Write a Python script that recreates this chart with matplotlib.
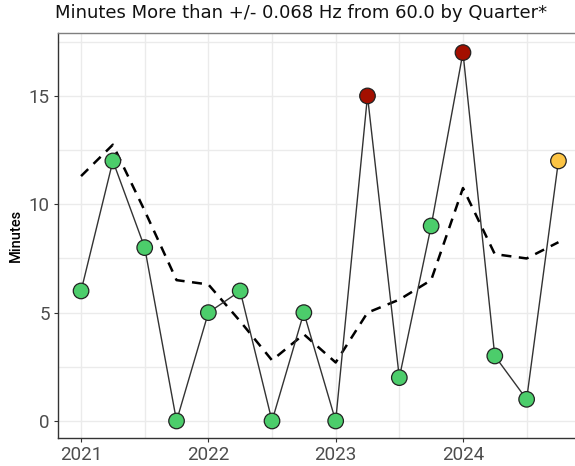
import numpy as np
import matplotlib.pyplot as plt
from matplotlib.ticker import MultipleLocator

# Dados trimestrais 2021 Q1 - 2024 Q4
quarters = [2021.0, 2021.25, 2021.5, 2021.75,
            2022.0, 2022.25, 2022.5, 2022.75,
            2023.0, 2023.25, 2023.5, 2023.75,
            2024.0, 2024.25, 2024.5, 2024.75]
minutes = [6, 12, 8, 0, 5, 6, 0, 5, 0, 15, 2, 9, 17, 3, 1, 12]
trend = [11.3, 12.75, 9.7, 6.5, 6.3, 4.6, 2.8, 4.0,
         2.7, 5.0, 5.6, 6.5, 10.75, 7.7, 7.5, 8.25]
status = ["ok", "ok", "ok", "ok", "ok", "ok", "ok", "ok",
          "ok", "high", "ok", "ok", "high", "ok", "ok", "partial"]
year_ticks = [2021, 2022, 2023, 2024]
y_ticks = [0, 5, 10, 15]

status_colors = {"ok": "#4ccd6b", "high": "#a30f00", "partial": "#fcc444"}

fig = plt.figure(figsize=(5.75, 4.66), dpi=100)
ax = fig.add_axes([0.1009, 0.0601, 0.8991, 0.8689])

# Grid (major + minor)
ax.xaxis.set_minor_locator(MultipleLocator(0.5))
ax.yaxis.set_minor_locator(MultipleLocator(2.5))
ax.grid(which="both", color="#ebebeb", linewidth=1.0)
ax.set_axisbelow(True)

ax.plot(quarters, trend, color="black", linestyle=(0, (4, 3)), linewidth=1.8, zorder=2)
ax.plot(quarters, minutes, color="#333333", linewidth=1.0, zorder=3)
cols = [status_colors[s] for s in status]
ax.scatter(quarters, minutes, s=125, c=cols, edgecolors="#222222", linewidths=0.9, zorder=4)

ax.set_xlim(2020.819, 2024.88)
ax.set_ylim(-0.785, 17.9)
ax.set_xticks(year_ticks)
ax.set_yticks(y_ticks)
ax.set_xticklabels([str(y) for y in year_ticks])
ax.tick_params(which="major", colors="#333333", labelcolor="#4d4d4d", labelsize=13.5,
               length=3, width=0.8, pad=3)
ax.tick_params(which="minor", length=0)
for lab in ax.get_xticklabels() + ax.get_yticklabels():
    lab.set_family("Roboto")

ax.spines["right"].set_visible(False)
ax.spines["top"].set_color("#7f7f7f")
ax.spines["left"].set_color("#333333")
ax.spines["bottom"].set_color("#333333")
for sp in ["top", "left", "bottom"]:
    ax.spines[sp].set_linewidth(1.0)

ax.set_ylabel("Minutes", fontsize=10.5, family="Roboto", fontweight="medium", labelpad=4)
fig.text(0.096, 0.953, "Minutes More than +/- 0.068 Hz from 60.0 by Quarter*",
         fontsize=13, ha="left", va="bottom", color="#111111")

fig.savefig("out.png", dpi=100)
